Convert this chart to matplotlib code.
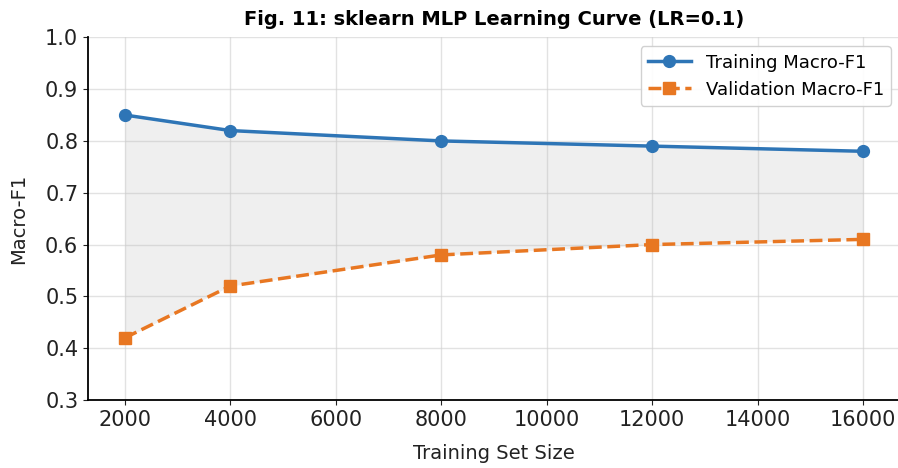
import matplotlib
matplotlib.use("Agg")
import matplotlib.pyplot as plt

sizes = [2000, 4000, 8000, 12000, 16000]
train_f1 = [0.85, 0.82, 0.80, 0.79, 0.78]
val_f1 = [0.42, 0.52, 0.58, 0.60, 0.61]
xticks = [2000, 4000, 6000, 8000, 10000, 12000, 14000, 16000]
yticks = [0.3, 0.4, 0.5, 0.6, 0.7, 0.8, 0.9, 1.0]

fig = plt.figure(figsize=(8.98, 4.68), dpi=100)
ax = fig.add_axes([88/898, (468-400)/468, (900-88)/898, (400-37.3)/468])

ax.fill_between(sizes, val_f1, train_f1, color="#b0b0b0", alpha=0.2, linewidth=0)
ax.plot(sizes, train_f1, color="#2E75B6", marker="o", linewidth=2.5, markersize=8.5,
        label="Training Macro-F1")
ax.plot(sizes, val_f1, color="#E87722", marker="s", linestyle="--", linewidth=2.5,
        markersize=8.5, label="Validation Macro-F1")

ax.set_xlim(1300, 16700)
ax.set_ylim(0.3, 1.0)
ax.set_xticks(xticks)
ax.set_yticks(yticks)
ax.set_yticklabels([f"{v:.1f}" for v in yticks])
ax.tick_params(labelsize=15, colors="#222222", labelcolor="#222222")
ax.grid(True, color="#d0d0d0", alpha=0.6, linewidth=1)
ax.set_axisbelow(True)
for s in ["top", "right"]:
    ax.spines[s].set_visible(False)
ax.spines["left"].set_linewidth(1.3)
ax.spines["bottom"].set_linewidth(1.3)

ax.set_xlabel("Training Set Size", fontsize=14, labelpad=10, color="#222222")
ax.set_ylabel("Macro-F1", fontsize=14, labelpad=12, color="#222222")
ax.set_title("Fig. 11: sklearn MLP Learning Curve (LR=0.1)", fontsize=14, fontweight="bold", pad=9)
ax.legend(loc="upper right", fontsize=13, framealpha=0.9, handlelength=2.4)

fig.savefig("out.png", dpi=100)
